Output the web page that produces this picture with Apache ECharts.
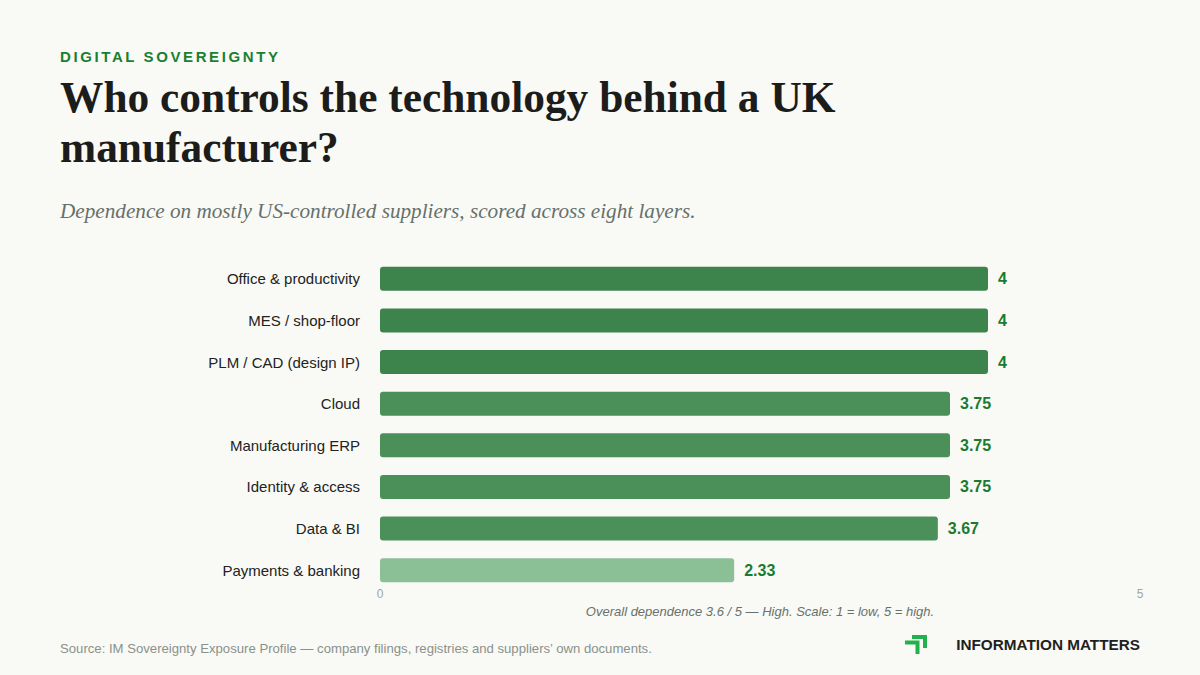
<!DOCTYPE html>
<html>
<head>
<meta charset="utf-8">
<script src="https://cdn.jsdelivr.net/npm/echarts@6/dist/echarts.min.js"></script>
<style>
  html, body { margin: 0; padding: 0; background: #f9faf6; }
  #page { position: relative; width: 1200px; height: 675px; overflow: hidden; font-family: 'Liberation Sans', Arial, sans-serif; }
  #chart { position: absolute; left: 0; top: 0; width: 1200px; height: 675px; }
  .kicker { position: absolute; left: 60px; top: 48px; font-size: 15px; font-weight: bold; letter-spacing: 2.6px; color: #1a7f30; }
  .title { position: absolute; left: 60px; top: 72px; width: 900px; font-family: 'Liberation Serif', serif; font-weight: bold; font-size: 43.4px; line-height: 50px; color: #1c1c1a; }
  .sub { position: absolute; left: 60px; top: 199px; font-family: 'Liberation Serif', serif; font-style: italic; font-size: 21.2px; color: #66706a; }
  .source { position: absolute; left: 60px; top: 641px; font-size: 13.15px; color: #8a918b; }
  .brand { position: absolute; right: 60px; top: 636px; font-size: 15.3px; font-weight: bold; color: #1f1f1f; }
  .logo { position: absolute; left: 904px; top: 633px; }
</style>
</head>
<body>
<div id="page">
  <div id="chart"></div>
  <div class="kicker">DIGITAL SOVEREIGNTY</div>
  <div class="title">Who controls the technology behind a UK manufacturer?</div>
  <div class="sub">Dependence on mostly US-controlled suppliers, scored across eight layers.</div>
  <div class="source">Source: IM Sovereignty Exposure Profile — company filings, registries and suppliers’ own documents.</div>
  <svg class="logo" width="24" height="24" viewBox="0 0 24 24">
    <path d="M8 2 H23 V15 H19 V6 H8 Z" fill="#22b14c"/>
    <path d="M1 7.5 H15.5 V21 H11.5 V11.5 H1 Z" fill="#22b14c"/>
  </svg>
  <div class="brand">INFORMATION MATTERS</div>
</div>
<script>
// layers, top to bottom
var layers = ['Office & productivity', 'MES / shop-floor', 'PLM / CAD (design IP)', 'Cloud',
  'Manufacturing ERP', 'Identity & access', 'Data & BI', 'Payments & banking'];
var scores = [4, 4, 4, 3.75, 3.75, 3.75, 3.67, 2.33];
var axisTicks = [0, 5];
var note = 'Overall dependence 3.6 / 5 — High. Scale: 1 = low, 5 = high.';

function barColor(v) {
  if (v >= 4) return '#3d844c';
  if (v >= 3) return '#4a9058';
  return '#8bbf95';
}

var chart = echarts.init(document.getElementById('chart'), null, { renderer: 'svg' });
chart.setOption({
  animation: false,
  grid: { left: 380, right: 60, top: 258, bottom: 84, containLabel: false },
  xAxis: {
    type: 'value', min: axisTicks[0], max: axisTicks[axisTicks.length - 1], interval: 5,
    axisLine: { show: false }, axisTick: { show: false }, splitLine: { show: false },
    axisLabel: { color: '#a0a6a1', fontSize: 12, margin: -3, fontFamily: 'Liberation Sans' }
  },
  yAxis: {
    type: 'category', data: layers, inverse: true,
    axisLine: { show: false }, axisTick: { show: false },
    axisLabel: { color: '#222', fontSize: 15, margin: 20, fontFamily: 'Liberation Sans' }
  },
  series: [{
    type: 'bar',
    barWidth: 24,
    data: scores.map(function (v) {
      return { value: v, itemStyle: { color: barColor(v), borderRadius: 3 } };
    }),
    label: {
      show: true, position: 'right', distance: 10,
      color: '#1a7a30', fontWeight: 'bold', fontSize: 16, fontFamily: 'Liberation Sans'
    }
  }],
  graphic: [{
    type: 'text',
    x: 760, y: 611,
    style: { text: note, textAlign: 'center', textVerticalAlign: 'middle',
      fill: '#6a716b', fontSize: 13, fontStyle: 'italic', fontFamily: 'Liberation Sans' }
  }]
});
</script>
</body>
</html>
